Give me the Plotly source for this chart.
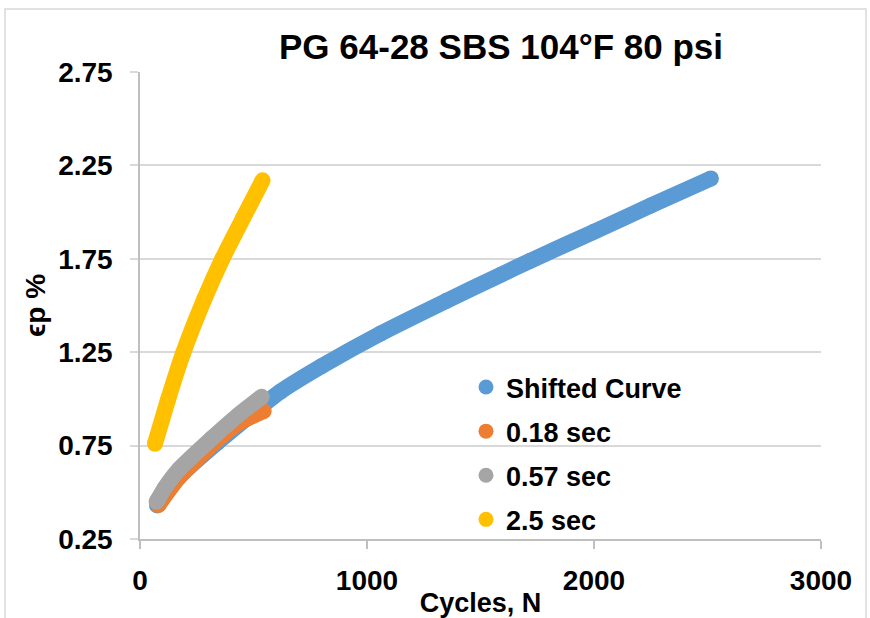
import plotly.graph_objects as go

# ---- data ----
shifted_n = [75, 170, 340, 550, 620, 800, 1060, 1350, 1590, 1720, 2000, 2250, 2515]
shifted_y = [0.43, 0.58, 0.765, 0.975, 1.04, 1.175, 1.35, 1.525, 1.665, 1.74, 1.895, 2.035, 2.18]

s018_n = [81, 169, 316, 433, 545]
s018_y = [0.432, 0.576, 0.753, 0.869, 0.935]

s057_n = [73, 110, 169, 316, 433, 536]
s057_y = [0.449, 0.525, 0.619, 0.788, 0.913, 1.011]

s25_n = [66, 122, 190, 282, 363, 455, 540]
s25_y = [0.76, 0.99, 1.245, 1.53, 1.75, 1.97, 2.17]

names = ["Shifted Curve", "0.18 sec", "0.57 sec", "2.5 sec"]
colors = ["#5B9BD5", "#ED7D31", "#A5A5A5", "#FFC000"]
series = [(shifted_n, shifted_y), (s018_n, s018_y), (s057_n, s057_y), (s25_n, s25_y)]

x_ticks = [0, 1000, 2000, 3000]
y_ticks = [0.25, 0.75, 1.25, 1.75, 2.25, 2.75]

FONT = "Liberation Sans, Arial, sans-serif"

fig = go.Figure()
W = 16
for (xs, ys), c in zip(series, colors):
    fig.add_trace(go.Scatter(
        x=xs, y=ys, mode="lines+markers",
        line=dict(color=c, width=W, shape="spline", smoothing=0.6),
        marker=dict(color=c, size=W),
        showlegend=False, hoverinfo="skip"))

for i, (nm, c) in enumerate(zip(names, colors)):
    fig.add_trace(go.Scatter(
        x=[None], y=[None], mode="markers", name=f"<b>{nm}</b>",
        marker=dict(color=c, size=15),
        legendgroup=str(i)))

W_PX, H_PX = 870, 618
L, R, T, B = 140, 49, 72, 79
pw = W_PX - L - R
ph = H_PX - T - B

fig.update_layout(
    width=W_PX, height=H_PX,
    margin=dict(l=L, r=R, t=T, b=B, autoexpand=False),
    paper_bgcolor="white", plot_bgcolor="white",
    font=dict(family=FONT, size=27, color="black"),
    title=dict(text="<b>PG 64-28 SBS 104°F 80 psi</b>",
               x=501 / W_PX, xanchor="center",
               y=1 - 47 / H_PX, yanchor="middle",
               font=dict(size=35, family=FONT, color="black")),
    legend=dict(x=(466 - L) / pw, y=(539 - 363) / ph,
                xanchor="left", yanchor="top",
                bgcolor="rgba(0,0,0,0)",
                font=dict(size=27, family=FONT, color="black"),
                itemwidth=30, tracegroupgap=6),
    showlegend=True,
)

fig.update_xaxes(
    range=[0, 3000], tickvals=x_ticks, ticktext=[f"<b>{v}</b>" for v in x_ticks],
    showgrid=False, zeroline=False, automargin=False,
    showline=True, linecolor="#BFBFBF", linewidth=1.5,
    ticks="outside", ticklen=8, tickcolor="#BFBFBF", tickwidth=1.5,
    ticklabelstandoff=8,
    tickfont=dict(size=28, family=FONT),
    title=dict(text="<b>Cycles, N</b>", font=dict(size=27, family=FONT), standoff=10),
)
fig.update_yaxes(
    range=[0.25, 2.75], tickvals=y_ticks, ticktext=[f"<b>{v:.2f}</b>" for v in y_ticks],
    showgrid=True, gridcolor="#D9D9D9", gridwidth=1.5, zeroline=False, automargin=False,
    showline=True, linecolor="#BFBFBF", linewidth=1.5,
    ticks="outside", ticklen=8, tickcolor="#D9D9D9", tickwidth=1.5,
    ticklabelstandoff=12,
    tickfont=dict(size=28, family=FONT),
    title=dict(text="<b>ϵp %</b>", font=dict(size=28, family=FONT), standoff=4),
)

# chart outer border
fig.add_shape(type="rect", xref="paper", yref="paper",
              x0=(5 - L) / pw, x1=(866 - L) / pw,
              y0=(H_PX - T - 640) / ph, y1=(H_PX - B - 9) / ph,
              line=dict(color="#D9D9D9", width=1.5), fillcolor="rgba(0,0,0,0)",
              layer="below")

fig.write_html("out.html")
